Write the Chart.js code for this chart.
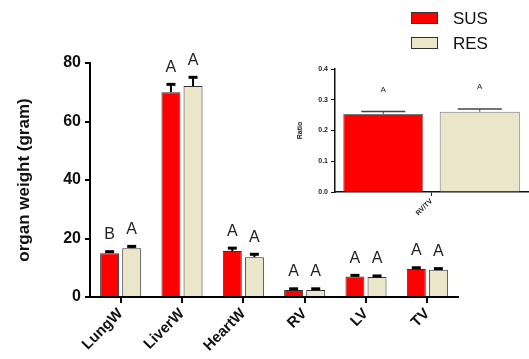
<!DOCTYPE html>
<html>
<head>
<meta charset="utf-8">
<script src="https://cdn.jsdelivr.net/npm/chart.js@4/dist/chart.umd.min.js"></script>
<style>
  html, body { margin: 0; padding: 0; background: #fff; }
  #wrap { position: relative; width: 529px; height: 359px; }
  #mainChart { position: absolute; left: 0; top: 0; }
  #insetChart { position: absolute; left: 285px; top: 55px; }
</style>
</head>
<body>
<div id="wrap">
  <canvas id="mainChart" width="529" height="359"></canvas>
  <canvas id="insetChart" width="244" height="175"></canvas>
</div>
<script>
// main panel
const categories = ['LungW', 'LiverW', 'HeartW', 'RV', 'LV', 'TV'];
const susMean = [15.0, 70.0, 15.7, 2.4, 7.0, 9.6];
const susErr = [0.5, 2.7, 1.0, 0.4, 0.4, 0.4];
const resMean = [16.7, 72.1, 13.6, 2.4, 6.8, 9.3];
const resErr = [0.6, 3.0, 1.0, 0.4, 0.4, 0.4];
const susLetters = ['B', 'A', 'A', 'A', 'A', 'A'];
const resLetters = ['A', 'A', 'A', 'A', 'A', 'A'];
const yTicks = [0, 20, 40, 60, 80];

// inset panel
const ratioCategories = ['RV/TV'];
const ratioSus = [0.254];
const ratioSusErr = [0.008];
const ratioRes = [0.261];
const ratioResErr = [0.009];
const ratioSusLetters = ['A'];
const ratioResLetters = ['A'];
const ratioTicks = [0.0, 0.1, 0.2, 0.3, 0.4];

const seriesNames = ['SUS', 'RES'];
const RED = '#ff0000';
const BEIGE = '#ebe5c9';
const FONT = '"Liberation Sans", Arial, sans-serif';

Chart.defaults.font.family = FONT;
Chart.defaults.animation = false;

// error bars (upward only) + letters above them
const errLetters = {
  id: 'errLetters',
  afterDatasetsDraw(chart, args, opts) {
    const ctx = chart.ctx;
    const y = chart.scales.y;
    ctx.save();
    chart.data.datasets.forEach(function (ds, i) {
      const meta = chart.getDatasetMeta(i);
      meta.data.forEach(function (bar, j) {
        const top = y.getPixelForValue(ds.data[j]);
        const cap = y.getPixelForValue(ds.data[j] + opts.errs[i][j]);
        ctx.strokeStyle = opts.color;
        ctx.lineWidth = opts.lineWidth;
        ctx.beginPath();
        ctx.moveTo(bar.x, top);
        ctx.lineTo(bar.x, cap);
        ctx.stroke();
        ctx.lineWidth = opts.capWidth;
        ctx.beginPath();
        ctx.moveTo(bar.x - opts.capHalf, cap);
        ctx.lineTo(bar.x + opts.capHalf, cap);
        ctx.stroke();
        ctx.fillStyle = '#222';
        ctx.font = opts.font;
        ctx.textAlign = 'center';
        ctx.textBaseline = 'middle';
        ctx.fillText(opts.letters[i][j], bar.x, cap - opts.gap);
      });
    });
    ctx.restore();
  }
};

// legend at top right
const boxLegend = {
  id: 'boxLegend',
  afterDraw(chart) {
    const ctx = chart.ctx;
    ctx.save();
    chart.data.datasets.forEach(function (ds, i) {
      const yy = 12 + i * 25;
      ctx.fillStyle = ds.backgroundColor;
      ctx.fillRect(411, yy, 27, 12);
      ctx.strokeStyle = '#333';
      ctx.lineWidth = 1;
      ctx.strokeRect(411.5, yy + 0.5, 26, 11);
      ctx.fillStyle = '#111';
      ctx.font = '17px ' + FONT;
      ctx.textAlign = 'left';
      ctx.textBaseline = 'middle';
      ctx.fillText(ds.label, 453, yy + 7);
    });
    ctx.restore();
  }
};

new Chart(document.getElementById('mainChart'), {
  type: 'bar',
  data: {
    labels: categories,
    datasets: [
      { label: seriesNames[0], data: susMean, backgroundColor: RED, borderColor: '#333', borderWidth: 1 },
      { label: seriesNames[1], data: resMean, backgroundColor: BEIGE, borderColor: '#333', borderWidth: 1 }
    ]
  },
  options: {
    responsive: false,
    layout: { padding: { left: 0, top: 63, right: 71, bottom: 0 } },
    datasets: { bar: { categoryPercentage: 0.72, barPercentage: 0.86 } },
    plugins: {
      legend: { display: false },
      tooltip: { enabled: false },
      errLetters: {
        errs: [susErr, resErr],
        letters: [susLetters, resLetters],
        color: '#000', lineWidth: 2, capWidth: 3, capHalf: 4.5, gap: 17,
        font: '16px ' + FONT
      }
    },
    scales: {
      x: {
        grid: { display: true, offset: false, drawOnChartArea: false, drawTicks: true, tickLength: 6, color: '#000', lineWidth: 2 },
        border: { display: true, color: '#000', width: 2 },
        ticks: { color: '#111', font: { size: 15, weight: 'bold' }, minRotation: 45, maxRotation: 45, padding: 2 },
        afterFit: function (s) { s.height = 62; }
      },
      y: {
        min: 0, max: 80,
        afterBuildTicks: function (s) { s.ticks = yTicks.map(v => ({ value: v })); },
        grid: { display: true, drawOnChartArea: false, drawTicks: true, tickLength: 5, color: '#000', lineWidth: 2 },
        border: { display: true, color: '#000', width: 2 },
        ticks: { color: '#111', font: { size: 16, weight: 'bold' }, padding: 4 },
        title: { display: true, text: 'organ weight (gram)', color: '#111', font: { size: 17, weight: 'bold' }, padding: { top: 14, bottom: 4 } },
        afterFit: function (s) { s.width = 90; }
      }
    }
  },
  plugins: [errLetters, boxLegend]
});

new Chart(document.getElementById('insetChart'), {
  type: 'bar',
  data: {
    labels: ratioCategories,
    datasets: [
      { label: seriesNames[0], data: ratioSus, backgroundColor: RED, borderColor: '#777', borderWidth: 1 },
      { label: seriesNames[1], data: ratioRes, backgroundColor: BEIGE, borderColor: '#777', borderWidth: 1 }
    ]
  },
  options: {
    responsive: false,
    layout: { padding: { left: 0, top: 14, right: 1, bottom: 0 } },
    datasets: { bar: { categoryPercentage: 1.0, barPercentage: 0.83 } },
    plugins: {
      legend: { display: false },
      tooltip: { enabled: false },
      errLetters: {
        errs: [ratioSusErr, ratioResErr],
        letters: [ratioSusLetters, ratioResLetters],
        color: '#444', lineWidth: 1, capWidth: 1.5, capHalf: 22, gap: 22,
        font: '8px ' + FONT
      }
    },
    scales: {
      x: {
        grid: { display: true, offset: false, drawOnChartArea: false, drawTicks: true, tickLength: 4, color: '#222', lineWidth: 1 },
        border: { display: true, color: '#111', width: 1.5 },
        ticks: { color: '#222', font: { size: 7, weight: 'bold' }, minRotation: 45, maxRotation: 45, padding: 1 },
        afterFit: function (s) { s.height = 38; }
      },
      y: {
        min: 0, max: 0.4,
        afterBuildTicks: function (s) { s.ticks = ratioTicks.map(v => ({ value: v })); },
        grid: { display: true, drawOnChartArea: false, drawTicks: true, tickLength: 4, color: '#111', lineWidth: 1 },
        border: { display: true, color: '#111', width: 1.5 },
        ticks: { color: '#222', font: { size: 7, weight: 'bold' }, padding: 3, callback: v => v.toFixed(1) },
        title: { display: true, text: 'Ratio', color: '#222', font: { size: 7, weight: 'bold' }, padding: { top: 11, bottom: 2 } },
        afterFit: function (s) { s.width = 50; }
      }
    }
  },
  plugins: [errLetters]
});
</script>
</body>
</html>
